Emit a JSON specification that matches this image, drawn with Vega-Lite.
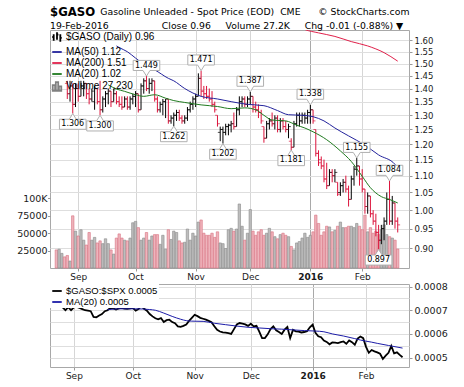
{
  "$schema": "https://vega.github.io/schema/vega-lite/v6.json",
  "padding": {"left": 16, "top": 6, "right": 4, "bottom": 2},
  "background": "white",
  "title": {
    "text": "$GASO",
    "subtitle": ["\u200b\u00a0\u00a0\u00a0\u00a0\u00a0\u00a0\u00a0\u00a0\u00a0\u00a0\u00a0\u00a0\u00a0\u00a0\u00a0\u00a0\u00a0Gasoline Unleaded - Spot Price (EOD)\u00a0\u00a0CME\u00a0\u00a0\u00a0\u00a0\u00a0\u00a0\u00a9 StockCharts.com", "19-Feb-2016\u00a0\u00a0\u00a0\u00a0\u00a0\u00a0\u00a0\u00a0\u00a0\u00a0\u00a0\u00a0\u00a0\u00a0\u00a0\u00a0\u00a0\u00a0Close 0.96\u00a0\u00a0\u00a0\u00a0\u00a0Volume 27.2K\u00a0\u00a0\u00a0\u00a0\u00a0Chg -0.01 (-0.88%) \u25bc"],
    "anchor": "start",
    "frame": "group",
    "font": "DejaVu Sans",
    "fontSize": 11.7,
    "fontWeight": "bold",
    "color": "#000000",
    "subtitleFont": "DejaVu Sans",
    "subtitleFontSize": 9.3,
    "subtitleColor": "#000000",
    "subtitlePadding": -10.5,
    "subtitleLineHeight": 14,
    "offset": -1.5,
    "dx": 0
  },
  "config": {
    "view": {"stroke": "#a8a8a8", "strokeWidth": 1},
    "axis": {"labelFont": "DejaVu Sans", "labelColor": "#1a1a1a", "tickColor": "#999999", "domain": false, "gridColor": "#dedede", "gridWidth": 1, "labelOverlap": false}
  },
  "bounds": "flush",
  "spacing": 16,
  "resolve": {"scale": {"color": "independent", "shape": "independent"}, "legend": {"color": "independent", "shape": "independent"}},
  "datasets": {
    "d": [
      {"i":0,"v":26000,"d":"d"},
      {"i":1,"v":27000,"d":"u"},
      {"i":2,"v":21000,"d":"u"},
      {"i":3,"v":16000,"d":"d"},
      {"i":4,"o":1.42,"h":1.43,"l":1.36,"c":1.38,"v":18000,"d":"d","r":0.000712},
      {"i":5,"o":1.38,"h":1.43,"l":1.35,"c":1.41,"v":10000,"d":"u","r":0.0007},
      {"i":6,"o":1.41,"h":1.42,"l":1.306,"c":1.34,"v":75000,"d":"d","r":0.000713},
      {"i":7,"o":1.34,"h":1.42,"l":1.33,"c":1.4,"v":53000,"d":"u","r":0.0007},
      {"i":8,"o":1.4,"h":1.42,"l":1.35,"c":1.37,"v":46000,"d":"d","r":0.000712},
      {"i":9,"o":1.37,"h":1.43,"l":1.37,"c":1.41,"v":55000,"d":"u","r":0.000714},
      {"i":10,"o":1.41,"h":1.43,"l":1.37,"c":1.42,"v":40000,"d":"u","r":0.00071},
      {"i":11,"o":1.42,"h":1.42,"l":1.36,"c":1.38,"v":33000,"d":"d","r":0.000705},
      {"i":12,"o":1.38,"h":1.4,"l":1.34,"c":1.36,"v":51000,"d":"d","r":0.0007},
      {"i":13,"o":1.36,"h":1.4,"l":1.35,"c":1.39,"v":40000,"d":"u","r":0.000698},
      {"i":14,"o":1.35,"h":1.41,"l":1.32,"c":1.4,"v":44000,"d":"u","r":0.000696},
      {"i":15,"o":1.4,"h":1.4,"l":1.34,"c":1.35,"v":36000,"d":"d","r":0.000672},
      {"i":16,"o":1.35,"h":1.43,"l":1.3,"c":1.32,"v":39000,"d":"d","r":0.00067},
      {"i":17,"o":1.32,"h":1.37,"l":1.31,"c":1.36,"v":35000,"d":"u","r":0.000678},
      {"i":18,"o":1.36,"h":1.39,"l":1.33,"c":1.38,"v":42000,"d":"u","r":0.000684},
      {"i":19,"o":1.38,"h":1.4,"l":1.34,"c":1.39,"v":35000,"d":"u","r":0.000696,"m20":1.414},
      {"i":20,"o":1.39,"h":1.39,"l":1.33,"c":1.35,"v":26000,"d":"d","r":0.0007,"rm":0.000702},
      {"i":21,"o":1.35,"h":1.4,"l":1.35,"c":1.38,"v":20000,"d":"u","r":0.00071},
      {"i":22,"o":1.38,"h":1.39,"l":1.34,"c":1.35,"v":43000,"d":"d","r":0.000708,"m20":1.398,"m50":1.575},
      {"i":23,"o":1.35,"h":1.37,"l":1.33,"c":1.34,"v":49000,"d":"d","r":0.000703,"m50":1.568},
      {"i":24,"o":1.34,"h":1.37,"l":1.32,"c":1.33,"v":43000,"d":"d","r":0.000708,"rm":0.000706},
      {"i":25,"o":1.33,"h":1.37,"l":1.33,"c":1.36,"v":40000,"d":"u","r":0.00071,"m20":1.389},
      {"i":26,"o":1.36,"h":1.37,"l":1.32,"c":1.33,"v":39000,"d":"d","r":0.000707,"m50":1.55},
      {"i":27,"o":1.33,"h":1.37,"l":1.32,"c":1.36,"v":43000,"d":"u","r":0.000706},
      {"i":28,"o":1.36,"h":1.38,"l":1.34,"c":1.37,"v":65000,"d":"u","r":0.000708},
      {"i":29,"o":1.37,"h":1.39,"l":1.33,"c":1.38,"v":67000,"d":"u","r":0.00071,"m20":1.376,"m50":1.523},
      {"i":30,"o":1.38,"h":1.38,"l":1.31,"c":1.32,"v":58000,"d":"d","r":0.000698,"rm":0.000706},
      {"i":31,"o":1.32,"h":1.42,"l":1.32,"c":1.41,"v":40000,"d":"u","r":0.000705},
      {"i":32,"o":1.41,"h":1.44,"l":1.38,"c":1.43,"v":43000,"d":"u","r":0.000717,"m20":1.37},
      {"i":33,"o":1.43,"h":1.449,"l":1.39,"c":1.4,"v":51000,"d":"d","r":0.000706,"m50":1.49},
      {"i":34,"o":1.4,"h":1.44,"l":1.38,"c":1.42,"v":40000,"d":"u","r":0.000698},
      {"i":35,"o":1.42,"h":1.44,"l":1.39,"c":1.43,"v":46000,"d":"u","r":0.000684,"rm":0.000703},
      {"i":36,"o":1.43,"h":1.43,"l":1.35,"c":1.36,"v":48000,"d":"d","r":0.000674,"m20":1.376,"m50":1.474},
      {"i":37,"o":1.36,"h":1.37,"l":1.31,"c":1.32,"v":48000,"d":"d","r":0.000666,"rm":0.0007},
      {"i":38,"o":1.32,"h":1.35,"l":1.31,"c":1.34,"v":34000,"d":"u","r":0.000662},
      {"i":39,"o":1.34,"h":1.36,"l":1.3,"c":1.35,"v":47000,"d":"u","r":0.000667},
      {"i":40,"o":1.35,"h":1.36,"l":1.29,"c":1.36,"v":27000,"d":"u","r":0.00065,"m20":1.363,"rm":0.000688},
      {"i":41,"o":1.36,"h":1.36,"l":1.27,"c":1.28,"v":55000,"d":"d","r":0.000658,"m50":1.44},
      {"i":42,"o":1.28,"h":1.3,"l":1.27,"c":1.29,"v":41000,"d":"u","r":0.00066},
      {"i":43,"o":1.29,"h":1.31,"l":1.262,"c":1.3,"v":53000,"d":"u","r":0.00065,"m20":1.354,"m50":1.43,"rm":0.000674},
      {"i":44,"o":1.3,"h":1.32,"l":1.28,"c":1.31,"v":51000,"d":"u","r":0.000645},
      {"i":45,"o":1.31,"h":1.32,"l":1.28,"c":1.29,"v":39000,"d":"d","r":0.000632},
      {"i":46,"o":1.29,"h":1.3,"l":1.27,"c":1.28,"v":36000,"d":"d","r":0.00063,"rm":0.000662},
      {"i":47,"o":1.28,"h":1.3,"l":1.27,"c":1.29,"v":37000,"d":"u","r":0.000634,"m20":1.347,"m50":1.4},
      {"i":48,"o":1.29,"h":1.33,"l":1.28,"c":1.32,"v":56000,"d":"u","r":0.00064,"rm":0.000656},
      {"i":49,"o":1.32,"h":1.35,"l":1.31,"c":1.34,"v":40000,"d":"u","r":0.000655},
      {"i":50,"o":1.34,"h":1.37,"l":1.32,"c":1.36,"v":50000,"d":"u","r":0.000668,"rm":0.000654},
      {"i":51,"o":1.36,"h":1.38,"l":1.33,"c":1.37,"v":46000,"d":"u","r":0.000681},
      {"i":52,"o":1.37,"h":1.46,"l":1.37,"c":1.44,"v":66000,"d":"u","r":0.000675},
      {"i":53,"o":1.44,"h":1.471,"l":1.37,"c":1.39,"v":69000,"d":"d","r":0.000668,"m20":1.338,"m50":1.37},
      {"i":54,"o":1.39,"h":1.41,"l":1.36,"c":1.38,"v":50000,"d":"d","r":0.000664,"rm":0.000653},
      {"i":55,"o":1.38,"h":1.41,"l":1.36,"c":1.37,"v":47000,"d":"d","r":0.00066},
      {"i":56,"o":1.37,"h":1.4,"l":1.35,"c":1.36,"v":47000,"d":"d","r":0.000655},
      {"i":57,"o":1.36,"h":1.39,"l":1.33,"c":1.34,"v":50000,"d":"d","r":0.000649},
      {"i":58,"o":1.34,"h":1.35,"l":1.31,"c":1.32,"v":44000,"d":"d","r":0.000632,"rm":0.000645},
      {"i":59,"o":1.3,"h":1.3,"l":1.26,"c":1.27,"v":52000,"d":"d","r":0.000617,"m20":1.332,"m50":1.36},
      {"i":60,"o":1.24,"h":1.26,"l":1.21,"c":1.25,"v":36000,"d":"u","r":0.00061},
      {"i":61,"o":1.25,"h":1.26,"l":1.202,"c":1.24,"v":35000,"d":"u","r":0.000606},
      {"i":62,"o":1.24,"h":1.27,"l":1.23,"c":1.26,"v":28000,"d":"u","r":0.000605,"rm":0.000639},
      {"i":63,"o":1.26,"h":1.27,"l":1.23,"c":1.265,"v":55000,"d":"u","r":0.000603},
      {"i":64,"o":1.265,"h":1.28,"l":1.24,"c":1.27,"v":57000,"d":"u","r":0.0006,"m20":1.324,"m50":1.35},
      {"i":65,"o":1.27,"h":1.31,"l":1.25,"c":1.26,"v":53000,"d":"d","r":0.00062},
      {"i":66,"o":1.26,"h":1.33,"l":1.26,"c":1.32,"v":56000,"d":"u","r":0.00064,"rm":0.000633},
      {"i":67,"o":1.32,"h":1.37,"l":1.3,"c":1.35,"v":92000,"d":"u","r":0.000646},
      {"i":68,"o":1.35,"h":1.37,"l":1.33,"c":1.36,"v":60000,"d":"u","r":0.000643},
      {"i":69,"o":1.36,"h":1.37,"l":1.33,"c":1.34,"v":40000,"d":"d","r":0.00064,"m20":1.327},
      {"i":70,"o":1.34,"h":1.37,"l":1.33,"c":1.36,"v":50000,"d":"u","r":0.000634,"m50":1.34,"rm":0.000628},
      {"i":71,"o":1.36,"h":1.387,"l":1.34,"c":1.37,"v":84000,"d":"u","r":0.000643},
      {"i":72,"o":1.37,"h":1.37,"l":1.31,"c":1.33,"v":53000,"d":"d","r":0.000632},
      {"i":73,"o":1.33,"h":1.35,"l":1.31,"c":1.32,"v":47000,"d":"d","r":0.000634,"m20":1.32},
      {"i":74,"o":1.32,"h":1.34,"l":1.29,"c":1.31,"v":52000,"d":"d","r":0.00061,"rm":0.000625},
      {"i":75,"o":1.31,"h":1.32,"l":1.27,"c":1.28,"v":55000,"d":"d","r":0.000582},
      {"i":76,"o":1.26,"h":1.26,"l":1.205,"c":1.22,"v":47000,"d":"d","r":0.000582,"m20":1.3,"m50":1.335},
      {"i":77,"o":1.22,"h":1.28,"l":1.22,"c":1.27,"v":50000,"d":"u","r":0.000598},
      {"i":78,"o":1.27,"h":1.29,"l":1.25,"c":1.28,"v":57000,"d":"u","r":0.00062,"rm":0.000622},
      {"i":79,"o":1.28,"h":1.31,"l":1.26,"c":1.27,"v":52000,"d":"d","r":0.000632,"m20":1.283},
      {"i":80,"o":1.27,"h":1.3,"l":1.25,"c":1.29,"v":45000,"d":"u","r":0.000615},
      {"i":81,"o":1.29,"h":1.3,"l":1.24,"c":1.25,"v":42000,"d":"d","r":0.000608,"m50":1.317},
      {"i":82,"o":1.25,"h":1.29,"l":1.24,"c":1.28,"v":48000,"d":"u","r":0.0006,"rm":0.00062},
      {"i":83,"o":1.28,"h":1.29,"l":1.25,"c":1.26,"v":50000,"d":"d","r":0.000618},
      {"i":84,"o":1.26,"h":1.28,"l":1.24,"c":1.25,"v":47000,"d":"d","r":0.000629,"m20":1.28},
      {"i":85,"o":1.25,"h":1.27,"l":1.22,"c":1.26,"v":45000,"d":"u","r":0.000582,"m50":1.302},
      {"i":86,"o":1.21,"h":1.22,"l":1.181,"c":1.19,"v":31000,"d":"d","r":0.000617,"rm":0.000617},
      {"i":87,"o":1.19,"h":1.28,"l":1.19,"c":1.27,"v":26000,"d":"u","r":0.000611},
      {"i":88,"o":1.27,"h":1.31,"l":1.26,"c":1.3,"v":36000,"d":"u","r":0.00061,"m20":1.265,"m200":1.665},
      {"i":89,"o":1.3,"h":1.31,"l":1.26,"c":1.28,"v":38000,"d":"u","r":0.000606},
      {"i":90,"o":1.28,"h":1.31,"l":1.27,"c":1.3,"v":43000,"d":"u","r":0.000608,"m50":1.3,"rm":0.000614},
      {"i":91,"o":1.3,"h":1.31,"l":1.27,"c":1.29,"v":50000,"d":"u","r":0.000611,"m20":1.255,"m200":1.648},
      {"i":92,"o":1.29,"h":1.32,"l":1.27,"c":1.31,"v":44000,"d":"u","r":0.000628},
      {"i":93,"o":1.31,"h":1.338,"l":1.27,"c":1.32,"v":47000,"d":"u","r":0.000639},
      {"i":94,"o":1.32,"h":1.32,"l":1.27,"c":1.28,"v":52000,"d":"d","r":0.000605,"m20":1.242,"m50":1.295,"rm":0.000612},
      {"i":95,"o":1.25,"h":1.25,"l":1.16,"c":1.17,"v":76000,"d":"d","r":0.00059},
      {"i":96,"o":1.17,"h":1.18,"l":1.13,"c":1.14,"v":64000,"d":"d","r":0.000586,"m200":1.633},
      {"i":97,"o":1.15,"h":1.16,"l":1.12,"c":1.13,"v":47000,"d":"d","r":0.000572,"rm":0.000609},
      {"i":98,"o":1.13,"h":1.15,"l":1.08,"c":1.09,"v":52000,"d":"d","r":0.000566,"m50":1.28},
      {"i":99,"o":1.09,"h":1.14,"l":1.06,"c":1.07,"v":60000,"d":"d","r":0.000556,"m20":1.215},
      {"i":100,"o":1.07,"h":1.12,"l":1.07,"c":1.11,"v":59000,"d":"u","r":0.000564,"rm":0.0006},
      {"i":101,"o":1.11,"h":1.12,"l":1.08,"c":1.1,"v":52000,"d":"d","r":0.000563},
      {"i":102,"o":1.1,"h":1.12,"l":1.08,"c":1.11,"v":54000,"d":"u","r":0.000561,"m50":1.255,"m200":1.617},
      {"i":103,"o":1.08,"h":1.08,"l":1.04,"c":1.045,"v":60000,"d":"d","r":0.000565},
      {"i":104,"o":1.05,"h":1.08,"l":1.04,"c":1.07,"v":66000,"d":"u","r":0.000568,"m20":1.178,"rm":0.000591},
      {"i":105,"o":1.07,"h":1.09,"l":1.05,"c":1.08,"v":58000,"d":"u","r":0.000558},
      {"i":106,"o":1.08,"h":1.1,"l":1.05,"c":1.06,"v":58000,"d":"d","r":0.000572},
      {"i":107,"o":1.06,"h":1.07,"l":1.01,"c":1.03,"v":60000,"d":"d","r":0.000565,"m50":1.228},
      {"i":108,"o":1.03,"h":1.1,"l":1.03,"c":1.09,"v":60000,"d":"u","r":0.000554,"m20":1.144,"m200":1.594,"rm":0.00058},
      {"i":109,"o":1.09,"h":1.13,"l":1.07,"c":1.12,"v":58000,"d":"u","r":0.00058},
      {"i":110,"o":1.12,"h":1.155,"l":1.1,"c":1.13,"v":64000,"d":"u","r":0.000589,"rm":0.000574},
      {"i":111,"o":1.13,"h":1.13,"l":1.07,"c":1.09,"v":60000,"d":"d","r":0.000582},
      {"i":112,"o":1.09,"h":1.12,"l":1.05,"c":1.06,"v":55000,"d":"d","r":0.000545,"m20":1.098},
      {"i":113,"o":1.06,"h":1.06,"l":0.99,"c":1.01,"v":76000,"d":"d","r":0.00052,"m50":1.197},
      {"i":114,"o":1.01,"h":1.05,"l":0.99,"c":1.04,"v":52000,"d":"u","r":0.000532,"m200":1.575,"rm":0.000565},
      {"i":115,"o":1.04,"h":1.04,"l":0.98,"c":0.99,"v":58000,"d":"d","r":0.000526,"m20":1.064},
      {"i":116,"o":0.99,"h":1.0,"l":0.96,"c":0.97,"v":50000,"d":"d","r":0.000522,"rm":0.00056},
      {"i":117,"o":0.97,"h":0.99,"l":0.93,"c":0.94,"v":53000,"d":"d","r":0.000516},
      {"i":118,"o":0.94,"h":0.96,"l":0.897,"c":0.92,"v":48000,"d":"d","r":0.000494,"m50":1.165},
      {"i":119,"o":0.92,"h":0.96,"l":0.91,"c":0.95,"v":55000,"d":"u","r":0.000508,"m20":1.038},
      {"i":120,"o":0.95,"h":0.98,"l":0.92,"c":0.97,"v":62000,"d":"u","r":0.00052,"m200":1.546,"rm":0.000551},
      {"i":121,"o":0.97,"h":1.05,"l":0.96,"c":1.03,"v":48000,"d":"u","r":0.000549},
      {"i":122,"o":1.03,"h":1.084,"l":0.96,"c":0.97,"v":45000,"d":"d","r":0.000518,"m20":1.03},
      {"i":123,"o":0.97,"h":1.04,"l":0.96,"c":1.02,"v":43000,"d":"u","r":0.000522},
      {"i":124,"o":1.02,"h":1.02,"l":0.95,"c":0.97,"v":40000,"d":"d","r":0.000511,"m50":1.135},
      {"i":125,"o":0.97,"h":0.98,"l":0.94,"c":0.96,"v":27230,"d":"d","r":0.000501,"m20":1.02,"m50":1.12,"m200":1.51,"rm":0.00054}
    ],
    "co": [
      {"i":6,"p":1.306,"pos":"lo"},{"i":16,"p":1.3,"pos":"lo"},{"i":33,"p":1.449,"pos":"hi"},{"i":43,"p":1.262,"pos":"lo"},
      {"i":53,"p":1.471,"pos":"hi"},{"i":61,"p":1.202,"pos":"lo"},{"i":71,"p":1.387,"pos":"hi"},{"i":86,"p":1.181,"pos":"lo"},
      {"i":93,"p":1.338,"pos":"hi"},{"i":110,"p":1.155,"pos":"hi"},{"i":118,"p":0.897,"pos":"lo"},{"i":122,"p":1.084,"pos":"hi"}
    ],
    "lg1": [{"s":"$GASO (Daily) 0.96"},{"s":"MA(50) 1.12"},{"s":"MA(200) 1.51"},{"s":"MA(20) 1.02"},{"s":"Volume 27,230"}],
    "lg2": [{"s":"$GASO:$SPX 0.0005"},{"s":"MA(20) 0.0005"}]
  },
  "vconcat": [
    {
      "width": 359,
      "height": 238,
      "data": {"name": "d"},
      "resolve": {"scale": {"y": "independent"}},
      "layer": [
        {
          "mark": {"type": "bar", "orient": "vertical", "size": 2.4, "strokeWidth": 0.6},
          "encoding": {
            "x": {"field": "i", "type": "quantitative", "scale": {"domain": [-0.5, 127.3], "nice": false, "zero": false},
              "axis": {"values": [8, 29, 51, 71, 93, 112], "labelExpr": "datum.value == 8 ? 'Sep' : datum.value == 29 ? 'Oct' : datum.value == 51 ? 'Nov' : datum.value == 71 ? 'Dec' : datum.value == 93 ? '2016' : 'Feb'",
                "grid": true, "gridColor": {"condition": {"test": "datum.value == 93", "value": "#a9a9a9"}, "value": "#d6d6d6"},
                "labelFontWeight": {"condition": {"test": "datum.value == 93", "value": "bold"}, "value": "normal"},
                "labelFontSize": 9, "tickSize": 3, "labelPadding": 1, "title": null, "labelFlush": false}},
            "y": {"field": "v", "type": "quantitative", "scale": {"domain": [0, 342000], "nice": false},
              "axis": {"orient": "left", "values": [25000, 50000, 75000, 100000], "labelExpr": "datum.value >= 100000 ? '100K' : format(datum.value, 'd')", "grid": false, "tickSize": 2.5, "labelPadding": 0.5, "labelFontSize": 9.5, "title": null}},
            "fill": {"condition": {"test": "datum.d === 'd'", "value": "#eeb4bc"}, "value": "#bdbdbd"},
            "stroke": {"condition": {"test": "datum.d === 'd'", "value": "#d9707f"}, "value": "#8a8a8a"}
          }
        },
        {
          "layer": [
            {
              "transform": [{"filter": "isValid(datum.l)"}],
              "mark": {"type": "rule", "strokeWidth": 1},
              "encoding": {
                "x": {"field": "i", "type": "quantitative"},
                "y": {"field": "l", "type": "quantitative", "scale": {"type": "log", "domain": [0.852, 1.646], "nice": false},
                  "axis": {"orient": "right", "values": [0.9, 0.95, 1, 1.05, 1.1, 1.15, 1.2, 1.25, 1.3, 1.35, 1.4, 1.45, 1.5, 1.55, 1.6], "format": ".2f", "grid": true, "gridColor": "#dedede", "tickSize": 3, "labelPadding": 2, "labelFontSize": 8.5, "title": null}},
                "y2": {"field": "h"},
                "stroke": {"condition": {"test": "datum.d === 'd'", "value": "#dc143c"}, "value": "#000000"}
              }
            },
            {
              "transform": [{"filter": "isValid(datum.o)"}],
              "mark": {"type": "tick", "orient": "horizontal", "size": 2.4, "thickness": 1, "xOffset": -1.2},
              "encoding": {
                "x": {"field": "i", "type": "quantitative"},
                "y": {"field": "o", "type": "quantitative"},
                "color": {"condition": {"test": "datum.d === 'd'", "value": "#dc143c"}, "value": "#000000"}
              }
            },
            {
              "transform": [{"filter": "isValid(datum.c)"}],
              "mark": {"type": "tick", "orient": "horizontal", "size": 2.4, "thickness": 1, "xOffset": 1.2},
              "encoding": {
                "x": {"field": "i", "type": "quantitative"},
                "y": {"field": "c", "type": "quantitative"},
                "color": {"condition": {"test": "datum.d === 'd'", "value": "#dc143c"}, "value": "#000000"}
              }
            },
            {
              "transform": [{"filter": "isValid(datum.m50)"}],
              "mark": {"type": "line", "color": "#23239c", "strokeWidth": 1, "clip": true, "interpolate": "monotone"},
              "encoding": {"x": {"field": "i", "type": "quantitative"}, "y": {"field": "m50", "type": "quantitative"}}
            },
            {
              "transform": [{"filter": "isValid(datum.m200)"}],
              "mark": {"type": "line", "color": "#e0204a", "strokeWidth": 1, "clip": true, "interpolate": "monotone"},
              "encoding": {"x": {"field": "i", "type": "quantitative"}, "y": {"field": "m200", "type": "quantitative"}}
            },
            {
              "transform": [{"filter": "isValid(datum.m20)"}],
              "mark": {"type": "line", "color": "#1f7a1f", "strokeWidth": 1, "clip": true, "interpolate": "monotone"},
              "encoding": {"x": {"field": "i", "type": "quantitative"}, "y": {"field": "m20", "type": "quantitative"}}
            },
            {
              "data": {"name": "co"},
              "transform": [{"filter": "datum.pos === 'lo'"}],
              "mark": {"type": "point", "shape": "M0,0L0.25,0.4H0.95V1.12H-0.95V0.4H-0.25Z", "size": 784, "filled": true, "fill": "white", "stroke": "#b0b0b0", "strokeWidth": 1, "opacity": 1},
              "encoding": {"x": {"field": "i", "type": "quantitative"}, "y": {"field": "p", "type": "quantitative"}}
            },
            {
              "data": {"name": "co"},
              "transform": [{"filter": "datum.pos === 'lo'"}],
              "mark": {"type": "text", "dy": 10.5, "font": "DejaVu Sans", "fontSize": 8, "color": "#000000", "baseline": "middle"},
              "encoding": {"x": {"field": "i", "type": "quantitative"}, "y": {"field": "p", "type": "quantitative"}, "text": {"field": "p", "type": "quantitative", "format": ".3f"}}
            },
            {
              "data": {"name": "co"},
              "transform": [{"filter": "datum.pos === 'hi'"}],
              "mark": {"type": "point", "shape": "M0,0L0.25,-0.4H0.95V-1.12H-0.95V-0.4H-0.25Z", "size": 784, "filled": true, "fill": "white", "stroke": "#b0b0b0", "strokeWidth": 1, "opacity": 1},
              "encoding": {"x": {"field": "i", "type": "quantitative"}, "y": {"field": "p", "type": "quantitative"}}
            },
            {
              "data": {"name": "co"},
              "transform": [{"filter": "datum.pos === 'hi'"}],
              "mark": {"type": "text", "dy": -10.5, "font": "DejaVu Sans", "fontSize": 8, "color": "#000000", "baseline": "middle"},
              "encoding": {"x": {"field": "i", "type": "quantitative"}, "y": {"field": "p", "type": "quantitative"}, "text": {"field": "p", "type": "quantitative", "format": ".3f"}}
            },
            {
              "data": {"name": "lg1"},
              "mark": {"type": "point", "opacity": 0, "filled": false},
              "encoding": {
                "color": {"field": "s", "type": "nominal",
                  "scale": {"domain": ["$GASO (Daily) 0.96", "MA(50) 1.12", "MA(200) 1.51", "MA(20) 1.02", "Volume 27,230"], "range": ["#000000", "#23239c", "#e0204a", "#1f7a1f", "#808080"]},
                  "legend": {"title": null, "orient": "top-left", "offset": 0, "padding": 1, "rowPadding": -1, "symbolSize": 90, "symbolStrokeWidth": 1.8, "symbolOpacity": 1, "labelOffset": 3, "labelFontSize": 10, "labelLimit": 200,
                    "encode": {"labels": {"update": {"fill": {"signal": "datum.value === 'MA(50) 1.12' ? '#23239c' : datum.value === 'MA(200) 1.51' ? '#e0204a' : datum.value === 'MA(20) 1.02' ? '#1f7a1f' : datum.value === 'Volume 27,230' ? '#555555' : '#000000'"}, "font": {"signal": "indexof(datum.value, '$GASO') === 0 ? 'DejaVu Sans' : 'Liberation Sans'"}}}}}},
                "shape": {"field": "s", "type": "nominal",
                  "scale": {"domain": ["$GASO (Daily) 0.96", "MA(50) 1.12", "MA(200) 1.51", "MA(20) 1.02", "Volume 27,230"], "range": ["M-0.7,-0.6V0.8M-0.7,0H-1M0,-1V0.6M0,-0.5H0.3M0.7,-0.6V1M0.7,0.2H1", "stroke", "stroke", "stroke", "M-0.9,1V-0.2H-0.4V1ZM-0.25,1V-0.8H0.25V1ZM0.4,1V0.1H0.9V1Z"]},
                  "legend": {"title": null, "orient": "top-left", "offset": 0, "padding": 1, "rowPadding": -1, "symbolSize": 90, "symbolStrokeWidth": 1.8, "symbolOpacity": 1, "labelOffset": 3, "labelFontSize": 10, "labelLimit": 200,
                    "encode": {"labels": {"update": {"fill": {"signal": "datum.value === 'MA(50) 1.12' ? '#23239c' : datum.value === 'MA(200) 1.51' ? '#e0204a' : datum.value === 'MA(20) 1.02' ? '#1f7a1f' : datum.value === 'Volume 27,230' ? '#555555' : '#000000'"}, "font": {"signal": "indexof(datum.value, '$GASO') === 0 ? 'DejaVu Sans' : 'Liberation Sans'"}}}}}}
              }
            }
          ]
        }
      ]
    },
    {
      "width": 359,
      "height": 83,
      "data": {"name": "d"},
      "resolve": {"axis": {"y": "independent"}},
      "layer": [
        {
          "transform": [{"filter": "isValid(datum.r)"}],
          "mark": {"type": "line", "color": "#000000", "strokeWidth": 1.8},
          "encoding": {
            "x": {"field": "i", "type": "quantitative", "scale": {"domain": [-0.5, 127.3], "nice": false, "zero": false},
              "axis": {"values": [8, 29, 51, 71, 93, 112], "labelExpr": "datum.value == 8 ? 'Sep' : datum.value == 29 ? 'Oct' : datum.value == 51 ? 'Nov' : datum.value == 71 ? 'Dec' : datum.value == 93 ? '2016' : 'Feb'",
                "grid": true, "gridColor": {"condition": {"test": "datum.value == 93", "value": "#a9a9a9"}, "value": "#d6d6d6"},
                "labelFontWeight": {"condition": {"test": "datum.value == 93", "value": "bold"}, "value": "normal"},
                "labelFontSize": 9, "tickSize": 3, "labelPadding": 1, "title": null, "labelFlush": false}},
            "y": {"field": "r", "type": "quantitative", "scale": {"domain": [0.00046, 0.000811], "nice": false, "zero": false},
              "axis": {"orient": "right", "values": [0.0005, 0.0006, 0.0007, 0.0008], "format": ".4f", "labelOverlap": false, "labelFlush": false, "grid": true, "gridColor": "#dedede", "tickSize": 3, "labelPadding": 2, "labelFontSize": 9.5, "title": null}}
          }
        },
        {
          "transform": [{"filter": "isValid(datum.rm)"}],
          "mark": {"type": "line", "color": "#1c1ca8", "strokeWidth": 1, "interpolate": "monotone"},
          "encoding": {"x": {"field": "i", "type": "quantitative"},
            "y": {"field": "rm", "type": "quantitative", "axis": {"orient": "right", "values": [0.00055, 0.00065, 0.00075], "labels": false, "ticks": false, "domain": false, "grid": true, "gridColor": "#dedede", "title": null}}}
        },
        {
          "data": {"name": "lg2"},
          "mark": {"type": "point", "opacity": 0, "filled": false},
          "encoding": {
            "color": {"field": "s", "type": "nominal",
              "scale": {"domain": ["$GASO:$SPX 0.0005", "MA(20) 0.0005"], "range": ["#000000", "#1c1ca8"]},
              "legend": {"title": null, "orient": "top-left", "offset": 0, "padding": 1, "fillColor": "white", "rowPadding": -2, "symbolType": "stroke", "symbolSize": 90, "symbolStrokeWidth": 1.8, "symbolOpacity": 1, "labelOffset": 3, "labelFontSize": 9.5, "labelLimit": 200,
                "encode": {"labels": {"update": {"fill": {"signal": "datum.value === 'MA(20) 0.0005' ? '#1c1ca8' : '#000000'"}, "font": {"signal": "indexof(datum.value, '$GASO') === 0 ? 'DejaVu Sans' : 'Liberation Sans'"}}}}}}
          }
        }
      ]
    }
  ]
}
